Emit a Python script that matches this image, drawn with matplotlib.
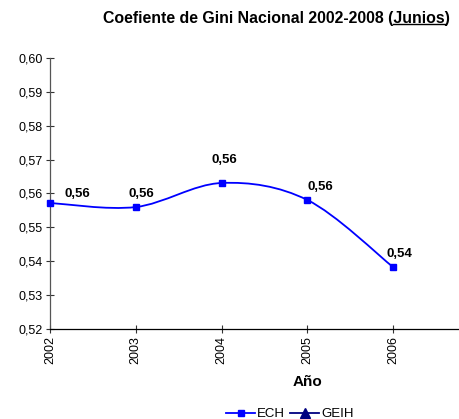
import matplotlib
matplotlib.use("Agg")
import matplotlib.pyplot as plt
from matplotlib.path import Path
from matplotlib.patches import PathPatch
from matplotlib.lines import Line2D
import numpy as np

plt.rcParams['font.family'] = ['Liberation Sans', 'DejaVu Sans']

years = [2002, 2003, 2004, 2005, 2006]
ech = [0.5572, 0.5560, 0.5631, 0.5581, 0.5383]
ech_labels = ['0,56', '0,56', '0,56', '0,56', '0,54']
label_offsets = [(19.5, 6.5), (4.3, 9.4), (2.2, 16.5), (9.4, 9.4), (5, 9.4)]  # points
yticks = [0.52, 0.53, 0.54, 0.55, 0.56, 0.57, 0.58, 0.59, 0.60]


def smooth_path(x, y, t=1/6):
    # Excel-style smoothed line as cubic Bezier segments
    x = np.asarray(x, float)
    y = np.asarray(y, float)
    n = len(x)
    verts = [(x[0], y[0])]
    codes = [Path.MOVETO]
    for i in range(n - 1):
        p0 = i - 1 if i > 0 else i
        p3 = i + 2 if i + 2 < n else i + 1
        c1 = (x[i] + (x[i + 1] - x[p0]) * t, y[i] + (y[i + 1] - y[p0]) * t)
        c2 = (x[i + 1] - (x[p3] - x[i]) * t, y[i + 1] - (y[p3] - y[i]) * t)
        verts += [c1, c2, (x[i + 1], y[i + 1])]
        codes += [Path.CURVE4] * 3
    return Path(verts, codes)


fig = plt.figure(figsize=(4.59, 4.19), dpi=100)
ax = fig.add_axes([0.109, 0.2148, 0.891, 0.6468])

ax.add_patch(PathPatch(smooth_path(years, ech), fill=False, edgecolor='#0000FF',
                       lw=1.3, zorder=3))
ax.plot(years, ech, ls='none', marker='s', ms=5, color='#0000FF', zorder=4,
        clip_on=False)

for x, y, lab, off in zip(years, ech, ech_labels, label_offsets):
    ax.annotate(lab, (x, y), xytext=off, textcoords='offset points',
                ha='center', va='center', fontsize=9.5, fontweight='bold')

ax.set_xlim(2002, 2006.77)
ax.set_ylim(0.52, 0.60)
ax.set_xticks(years)
ax.set_xticklabels([str(y) for y in years], rotation=90, fontsize=9)
ax.set_yticks(yticks)
ax.set_yticklabels([f'{v:.2f}'.replace('.', ',') for v in yticks], fontsize=9)
ax.tick_params(direction='inout', length=6, width=0.8, color='#333333', pad=2)
for s in ['top', 'right']:
    ax.spines[s].set_visible(False)
ax.spines['left'].set_color('#555555')
ax.spines['bottom'].set_color('black')
ax.spines['left'].set_linewidth(0.9)
ax.spines['bottom'].set_linewidth(0.9)

fig.text(0.669, 1 - 382 / 419, 'Año', ha='center', va='center', fontsize=11,
         fontweight='bold')

# title with underlined "Junios"
title_pre = 'Coefiente de Gini Nacional 2002-2008 ('
title_u = 'Junios'
title = title_pre + title_u + ')'
tsize = 11.4
tx0, ty = 103 / 459, 1 - 19 / 419
fig.canvas.draw()
r = fig.canvas.get_renderer()
t = fig.text(tx0, ty, title, fontsize=tsize, fontweight='bold', va='center')
tmp = fig.text(tx0, ty, title_pre, fontsize=tsize, fontweight='bold', va='center')
xa = tmp.get_window_extent(r).x1
tmp.set_text(title_pre + title_u)
xb = tmp.get_window_extent(r).x1
tmp.remove()
uy = (t.get_window_extent(r).y0 + 2) / fig.bbox.height
fig.add_artist(Line2D([xa / fig.bbox.width, xb / fig.bbox.width], [uy, uy],
                      transform=fig.transFigure, color='black', lw=1))

handles = [Line2D([], [], color='#0000FF', marker='s', ms=5, lw=1.3),
           Line2D([], [], color='#000080', marker='^', ms=7, lw=1.3)]
fig.legend(handles, ['ECH', 'GEIH'], loc='center', bbox_to_anchor=(290 / 459, 1 - 414 / 419),
           ncol=2, frameon=False, fontsize=9.5, handlelength=2.2,
           handletextpad=0.15, columnspacing=0.4, borderpad=0, borderaxespad=0)

fig.savefig('out.png', dpi=100)
